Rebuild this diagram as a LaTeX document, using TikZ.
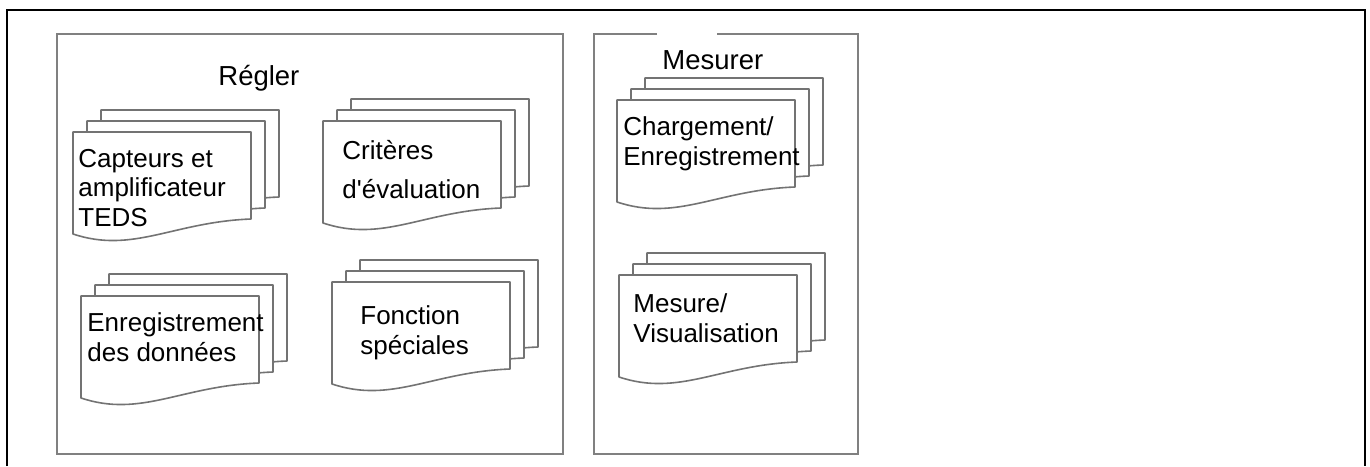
\documentclass[tikz,border=0pt]{standalone}
\usepackage{fontspec}
\setmainfont{Liberation Sans}
\usepackage{tikz}
\usetikzlibrary{positioning}

\begin{document}
\begin{tikzpicture}[
    x=0.5pt, y=-0.5pt,
    card/.style={draw=black!55, fill=white, line width=0.8pt, line join=round},
    groupline/.style={draw=black!50, line width=1pt},
    title/.style={anchor=base west, inner sep=0pt, font=\fontsize{13.75}{16}\selectfont},
    label/.style={anchor=base west, inner sep=0pt, align=left, font=\fontsize{13}{14.75}\selectfont},
    docstack/.pic={
        \foreach \s in {2,1,0}
            \draw[card, shift={(14*\s,-11*\s)}] (0,0) -- (178,0) -- (178,87)
                .. controls (100,90) and (60,122) .. (0,102) -- cycle;
    }
]
\useasboundingbox (0,0) rectangle (1370,466);

% outer frame
\draw[line width=1pt] (7,466) -- (7,10) -- (1365,10) -- (1365,466);

% Regler
\draw[groupline] (57,34) rectangle (563,454);
\node[title] (regler) at (218,85) {Régler};

\pic (capt) at (73,132) {docstack};
\pic (crit) at (323,121) {docstack};
\pic (enreg) at (81,296) {docstack};
\pic (fonct) at (332,282) {docstack};

% labels sit on the baseline of their last line
\node[label] (captlbl) at (78,226) {Capteurs et\\amplificateur\\TEDS};
\node[label] (critlbl) at (342,198) {Critères\\[4.75pt]d\textquotesingle évaluation};
\node[label] (enreglbl) at (87,361) {Enregistrement\\des données};
\node[label] (fonctlbl) at (360,354) {Fonction\\spéciales};

% Mesurer
\draw[groupline] (657,34) -| (594,454) -| (858,34) -- (717,34);
\node[title] (mesurer) at (662,69) {Mesurer};

\pic (charg) at (617,100) {docstack};
\pic (mesure) at (619,275) {docstack};

\node[label] (charglbl) at (623,165) {Chargement/\\Enregistrement};
\node[label] (mesurelbl) at (633,342) {Mesure/\\Visualisation};

\end{tikzpicture}
\end{document}
